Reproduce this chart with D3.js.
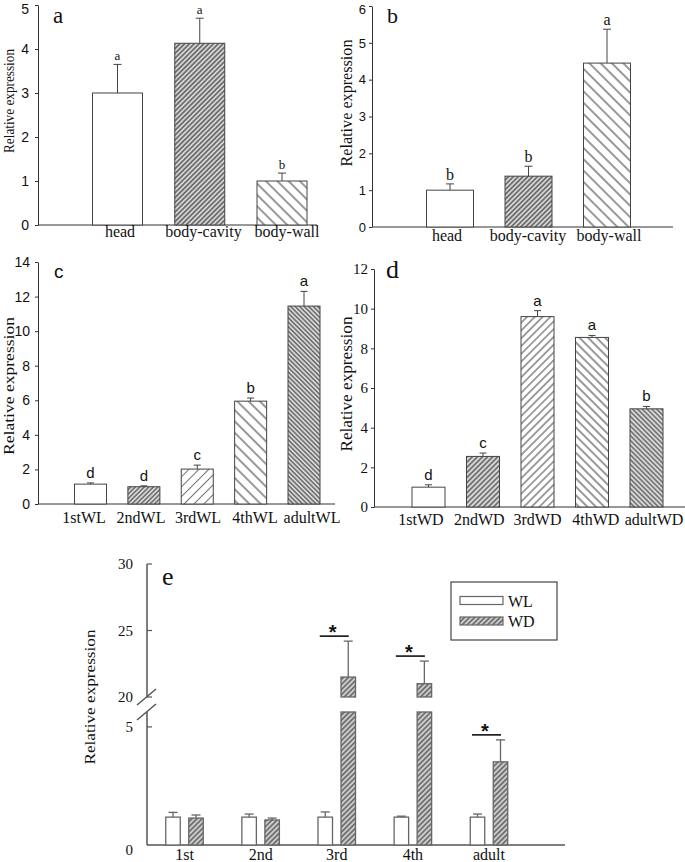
<!DOCTYPE html>
<html><head><meta charset="utf-8">
<script src="https://cdn.jsdelivr.net/npm/d3@7"></script>
<style>body{margin:0;background:#fff} svg{display:block}</style>
</head><body>
<svg id="chart" width="685" height="862"></svg>
<script>
// ---------- DATA ----------
const abCats = ["head", "body-cavity", "body-wall"];
const aVals = [3.0, 4.13, 1.0];
const aErr  = [0.65, 0.57, 0.18];
const aSig  = ["a", "a", "b"];
const aTicks = [0, 1, 2, 3, 4, 5];

const bVals = [1.0, 1.38, 4.45];
const bErr  = [0.17, 0.27, 0.92];
const bSig  = ["b", "b", "a"];
const bTicks = [0, 1, 2, 3, 4, 5, 6];

const cCats = ["1stWL", "2ndWL", "3rdWL", "4thWL", "adultWL"];
const cVals = [1.15, 1.0, 2.02, 5.95, 11.45];
const cErr  = [0.07, 0.05, 0.23, 0.18, 0.85];
const cSig  = ["d", "d", "c", "b", "a"];
const cTicks = [0, 2, 4, 6, 8, 10, 12, 14];

const dCats = ["1stWD", "2ndWD", "3rdWD", "4thWD", "adultWD"];
const dVals = [1.0, 2.55, 9.6, 8.55, 4.95];
const dErr  = [0.12, 0.17, 0.3, 0.1, 0.12];
const dSig  = ["d", "c", "a", "a", "b"];
const dTicks = [0, 2, 4, 6, 8, 10, 12];

const eCats = ["1st", "2nd", "3rd", "4th", "adult"];
const eWL    = [1.18, 1.18, 1.18, 1.18, 1.18];
const eWLerr = [0.2, 0.13, 0.22, 0.04, 0.13];
const eWD    = [1.14, 1.06, 21.5, 21.0, 3.52];
const eWDerr = [0.13, 0.08, 2.7, 1.7, 0.93];
const eSig   = [false, false, true, true, true];
const eTicksLow  = [0, 5];
const eTicksHigh = [20, 25, 30];
const eSeries = ["WL", "WD"];

// ---------- SETUP ----------
const SERIF = "'Liberation Serif', 'Times New Roman', serif";
const SANS = "'Liberation Sans', Arial, sans-serif";
const svg = d3.select("#chart");
const defs = svg.append("defs");

function pattern(id, angle, spacing, color, width, bg) {
  const p = defs.append("pattern").attr("id", id)
    .attr("patternUnits", "userSpaceOnUse")
    .attr("width", spacing).attr("height", spacing)
    .attr("patternTransform", `rotate(${angle})`);
  p.append("rect").attr("width", spacing).attr("height", spacing).attr("fill", bg || "#fff");
  p.append("line").attr("x1", spacing / 2).attr("y1", -1).attr("x2", spacing / 2).attr("y2", spacing + 1)
    .attr("stroke", color).attr("stroke-width", width);
  return `url(#${id})`;
}

const fillsAB = ["#fff",
  pattern("pa1", 45, 3.4, "#333", 1.1, "#d4d4d4"),
  pattern("pa2", -45, 8, "#333", 1)];
const fillsC = ["#fff",
  pattern("pc1", 45, 3.2, "#444", 1.1, "#d8d8d8"),
  pattern("pc2", 45, 7, "#777", 1),
  pattern("pc3", -45, 8, "#333", 1),
  pattern("pc4", -45, 3.2, "#444", 1.1, "#d8d8d8")];
const fillsD = ["#fff",
  pattern("pd1", 45, 3.6, "#333", 1.1, "#d8d8d8"),
  pattern("pd2", 45, 5.5, "#444", 1),
  pattern("pd3", -45, 6, "#333", 1),
  pattern("pd4", -45, 3.4, "#444", 1.1, "#d8d8d8")];
const fillE = pattern("pe1", 45, 3.6, "#444", 1.2, "#ccc");

function panel(o) {
  const g = svg.append("g");
  const y = d3.scaleLinear().domain([0, o.ymax]).range([o.y0, o.y1]);
  const x = d3.scalePoint().domain(o.cats).range(o.xr);
  const xl = d3.scalePoint().domain(o.cats).range(o.lr);

  const axis = d3.axisLeft(y).tickValues(o.ticks).tickSize(o.tickLen)
    .tickSizeOuter(0).tickPadding(o.pad).tickFormat(d3.format("d"));
  const ag = g.append("g").attr("transform", `translate(${o.ax},0)`).call(axis);
  ag.select(".domain").attr("stroke", "#333").attr("stroke-width", 1);
  ag.selectAll(".tick line").attr("stroke", "#333");
  ag.selectAll(".tick text").attr("fill", "#111")
    .attr("dy", d => (d === o.ymax && o.topShift) ? "0.6em" : "0.32em")
    .style("font-family", o.tickFont).style("font-size", o.tickSize + "px");

  g.append("line").attr("x1", o.ax).attr("x2", o.xEnd)
    .attr("y1", y(0)).attr("y2", y(0)).attr("stroke", "#333").attr("stroke-width", 1);

  const data = o.cats.map((c, i) => ({c, v: o.vals[i], e: o.err[i], s: o.sig[i], f: o.fills[i]}));

  g.selectAll("rect.bar").data(data).join("rect").attr("class", "bar")
    .attr("x", d => x(d.c) - o.bw / 2).attr("width", o.bw)
    .attr("y", d => y(d.v)).attr("height", d => y(0) - y(d.v))
    .attr("fill", d => d.f).attr("stroke", "#444").attr("stroke-width", 1);

  g.selectAll("line.err").data(data).join("line").attr("class", "err")
    .attr("x1", d => x(d.c)).attr("x2", d => x(d.c))
    .attr("y1", d => y(d.v)).attr("y2", d => y(d.v + d.e))
    .attr("stroke", "#444").attr("stroke-width", 1);
  g.selectAll("line.cap").data(data).join("line").attr("class", "cap")
    .attr("x1", d => x(d.c) - o.cap / 2).attr("x2", d => x(d.c) + o.cap / 2)
    .attr("y1", d => y(d.v + d.e)).attr("y2", d => y(d.v + d.e))
    .attr("stroke", "#444").attr("stroke-width", 1);

  g.selectAll("text.sig").data(data).join("text").attr("class", "sig")
    .attr("x", d => x(d.c)).attr("y", d => y(d.v + d.e) - o.sigGap)
    .attr("text-anchor", "middle").attr("fill", "#111")
    .style("font-family", o.sigFont).style("font-size", o.sigSize + "px")
    .text(d => d.s);

  g.selectAll("text.cat").data(data).join("text").attr("class", "cat")
    .attr("x", d => xl(d.c)).attr("y", o.catY)
    .attr("text-anchor", "middle").attr("fill", "#111")
    .style("font-family", SERIF).style("font-size", "16px")
    .text(d => d.c);

  g.append("text").attr("transform", `translate(${o.titleX},${o.titleY}) rotate(-90)`)
    .attr("text-anchor", "middle").attr("fill", "#111")
    .attr("textLength", o.titleLen).attr("lengthAdjust", "spacingAndGlyphs")
    .style("font-family", SERIF).style("font-size", o.titleSize + "px")
    .text("Relative expression");

  g.append("text").attr("x", o.letterX).attr("y", o.letterY).attr("fill", "#111")
    .style("font-family", o.letterFont).style("font-size", o.letterSize + "px")
    .text(o.letter);
}

panel({cats: abCats, vals: aVals, err: aErr, sig: aSig, fills: fillsAB, ticks: aTicks,
  ymax: 5, y0: 225, y1: 5, ax: 38, xEnd: 317, xr: [117.5, 282], lr: [120, 287], bw: 50,
  tickLen: 3, pad: 6, tickFont: SANS, tickSize: 14, topShift: true, cap: 8, sigGap: 4, sigFont: SERIF, sigSize: 13,
  catY: 237, titleX: 14, titleY: 101, titleLen: 104, titleSize: 15,
  letter: "a", letterX: 53, letterY: 23, letterFont: SERIF, letterSize: 23});

panel({cats: abCats, vals: bVals, err: bErr, sig: bSig, fills: fillsAB, ticks: bTicks,
  ymax: 6, y0: 227, y1: 6, ax: 372, xEnd: 673, xr: [450, 607], lr: [447, 609], bw: 47,
  tickLen: 3, pad: 3, tickFont: SANS, tickSize: 13, topShift: true, cap: 8, sigGap: 4, sigFont: SERIF, sigSize: 16,
  catY: 241, titleX: 352, titleY: 103, titleLen: 127, titleSize: 16,
  letter: "b", letterX: 387, letterY: 23, letterFont: SERIF, letterSize: 22});

panel({cats: cCats, vals: cVals, err: cErr, sig: cSig, fills: fillsC, ticks: cTicks,
  ymax: 14, y0: 504, y1: 262, ax: 38, xEnd: 335, xr: [90.5, 304], lr: [84, 312], bw: 32,
  tickLen: 3, pad: 5, tickFont: SANS, tickSize: 14, cap: 7, sigGap: 5, sigFont: SANS, sigSize: 15,
  catY: 523, titleX: 14, titleY: 386, titleLen: 138, titleSize: 15,
  letter: "c", letterX: 54, letterY: 278, letterFont: SANS, letterSize: 19});

panel({cats: dCats, vals: dVals, err: dErr, sig: dSig, fills: fillsD, ticks: dTicks,
  ymax: 12, y0: 507, y1: 269, ax: 374, xEnd: 685, xr: [428.5, 646.5], lr: [421, 654], bw: 33,
  tickLen: 3, pad: 3, tickFont: SERIF, tickSize: 15, cap: 7, sigGap: 5, sigFont: SANS, sigSize: 15,
  catY: 525, titleX: 352, titleY: 384, titleLen: 135, titleSize: 16,
  letter: "d", letterX: 386, letterY: 278, letterFont: SERIF, letterSize: 26});

// ---------- PANEL E (broken axis) ----------
(function () {
  const g = svg.append("g");
  const ax = 147, xEnd = 565;
  const yLow = d3.scaleLinear().domain([0, 5.63]).range([845, 712]);
  const yHigh = d3.scaleLinear().domain([20, 30]).range([697, 564]);
  const x = d3.scalePoint().domain(eCats).range([184.5, 489]);
  const xs = d3.scalePoint().domain(eSeries).range([-11.5, 11.5]);
  const bw = 14.5, cap = 9;
  const AX = "#555";

  // axis pieces
  g.append("line").attr("x1", ax).attr("x2", ax).attr("y1", yHigh(30)).attr("y2", yHigh(20))
    .attr("stroke", AX).attr("stroke-width", 1.5);
  g.append("line").attr("x1", ax).attr("x2", ax).attr("y1", yLow(5.63)).attr("y2", yLow(0))
    .attr("stroke", AX).attr("stroke-width", 1.5);
  [yHigh(20), yLow(5.63)].forEach(yy => {
    g.append("line").attr("x1", ax - 10).attr("y1", yy + 8).attr("x2", ax + 9).attr("y2", yy - 8)
      .attr("stroke", AX).attr("stroke-width", 1.5);
  });
  g.append("line").attr("x1", ax).attr("x2", xEnd).attr("y1", yLow(0)).attr("y2", yLow(0))
    .attr("stroke", AX).attr("stroke-width", 1.5);

  const ticks = eTicksHigh.map(t => ({t, y: yHigh(t)})).concat(eTicksLow.map(t => ({t, y: yLow(t)})));
  g.selectAll("line.tk").data(ticks.filter(d => d.t !== 0)).join("line").attr("class", "tk")
    .attr("x1", ax).attr("x2", ax + 5).attr("y1", d => d.y).attr("y2", d => d.y)
    .attr("stroke", AX).attr("stroke-width", 1.2);
  g.selectAll("text.tl").data(ticks).join("text").attr("class", "tl")
    .attr("x", ax - 14).attr("y", d => d.y + (d.t === 0 ? 10 : 5))
    .attr("text-anchor", "end").attr("fill", "#111")
    .style("font-family", SERIF).style("font-size", "15px").text(d => d.t);

  // bars
  const rows = [];
  eCats.forEach((c, i) => {
    rows.push({c, s: "WL", v: eWL[i], e: eWLerr[i]});
    rows.push({c, s: "WD", v: eWD[i], e: eWDerr[i]});
  });
  const cx = d => x(d.c) + xs(d.s);
  const lowMax = yLow.domain()[1];
  const yTop = v => v <= lowMax ? yLow(v) : yHigh(v);

  g.selectAll("rect.lo").data(rows).join("rect").attr("class", "lo")
    .attr("x", d => cx(d) - bw / 2).attr("width", bw)
    .attr("y", d => yLow(Math.min(d.v, lowMax))).attr("height", d => yLow(0) - yLow(Math.min(d.v, lowMax)))
    .attr("fill", d => d.s === "WL" ? "#fff" : fillE).attr("stroke", "#666").attr("stroke-width", 1.3);
  g.selectAll("rect.hi").data(rows.filter(d => d.v > lowMax)).join("rect").attr("class", "hi")
    .attr("x", d => cx(d) - bw / 2).attr("width", bw)
    .attr("y", d => yHigh(d.v)).attr("height", d => yHigh(20) - yHigh(d.v))
    .attr("fill", fillE).attr("stroke", "#666").attr("stroke-width", 1.3);

  g.selectAll("line.err").data(rows).join("line").attr("class", "err")
    .attr("x1", cx).attr("x2", cx).attr("y1", d => yTop(d.v)).attr("y2", d => yTop(d.v + d.e))
    .attr("stroke", "#666").attr("stroke-width", 1.3);
  g.selectAll("line.cap").data(rows).join("line").attr("class", "cap")
    .attr("x1", d => cx(d) - cap / 2).attr("x2", d => cx(d) + cap / 2)
    .attr("y1", d => yTop(d.v + d.e)).attr("y2", d => yTop(d.v + d.e))
    .attr("stroke", "#666").attr("stroke-width", 1.3);

  // significance
  const sig = eCats.map((c, i) => ({c, on: eSig[i], top: yTop(eWD[i] + eWDerr[i])})).filter(d => d.on);
  g.selectAll("line.sg").data(sig).join("line").attr("class", "sg")
    .attr("x1", d => x(d.c) - 17).attr("x2", d => x(d.c) + 12)
    .attr("y1", d => d.top - 5).attr("y2", d => d.top - 5)
    .attr("stroke", "#111").attr("stroke-width", 1.6);
  g.selectAll("text.sg").data(sig).join("text").attr("class", "sg")
    .attr("x", d => x(d.c) - 4).attr("y", d => d.top - 2)
    .attr("text-anchor", "middle").attr("fill", "#111")
    .style("font-family", SANS).style("font-weight", "bold").style("font-size", "20px").text("*");

  // categories
  g.selectAll("text.cat").data(eCats).join("text").attr("class", "cat")
    .attr("x", d => x(d)).attr("y", 860).attr("text-anchor", "middle").attr("fill", "#111")
    .style("font-family", SERIF).style("font-size", "16px").text(d => d);

  // title & letter
  g.append("text").attr("transform", "translate(95,697) rotate(-90)")
    .attr("text-anchor", "middle").attr("fill", "#111")
    .attr("textLength", 135).attr("lengthAdjust", "spacingAndGlyphs")
    .style("font-family", SERIF).style("font-size", "15px").text("Relative expression");
  g.append("text").attr("x", 162).attr("y", 585).attr("fill", "#111")
    .style("font-family", SERIF).style("font-size", "26px").text("e");

  // legend
  const lg = g.append("g");
  lg.append("rect").attr("x", 451).attr("y", 582).attr("width", 106).attr("height", 58)
    .attr("fill", "#fff").attr("stroke", "#444").attr("stroke-width", 1.2);
  const ly = d3.scalePoint().domain(eSeries).range([600.5, 621]);
  lg.selectAll("rect.sw").data(eSeries).join("rect").attr("class", "sw")
    .attr("x", 460).attr("width", 43).attr("y", d => ly(d) - 4).attr("height", 8)
    .attr("fill", d => d === "WL" ? "#fff" : fillE).attr("stroke", "#666").attr("stroke-width", 1.2);
  lg.selectAll("text.lt").data(eSeries).join("text").attr("class", "lt")
    .attr("x", 508).attr("y", d => ly(d) + 6).attr("fill", "#111")
    .style("font-family", SERIF).style("font-size", "16px").text(d => d);
})();
</script>
</body></html>
